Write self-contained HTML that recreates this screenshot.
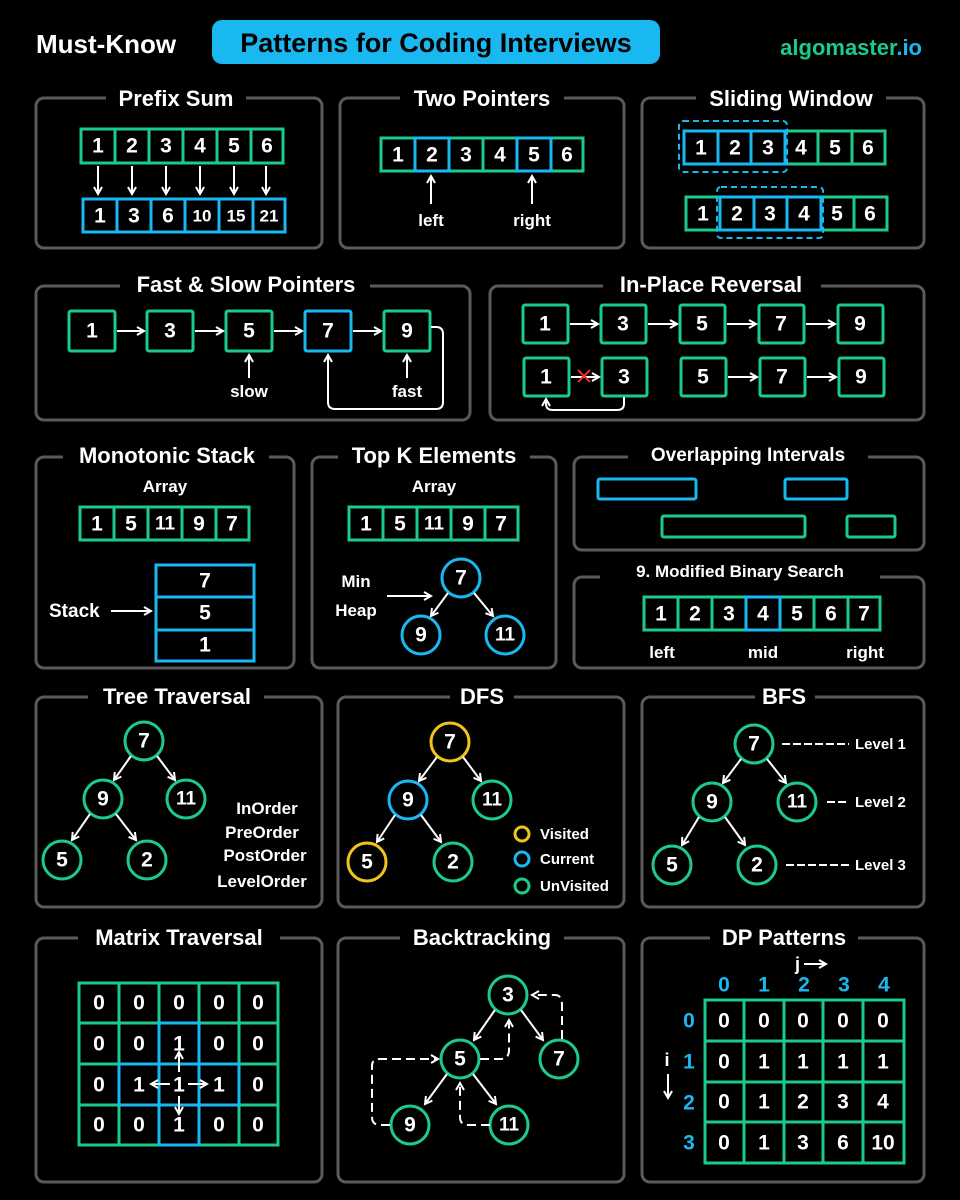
<!DOCTYPE html>
<html><head><meta charset="utf-8"><style>
html,body{margin:0;padding:0;background:#000}
svg{display:block}
text{font-family:"Liberation Sans",sans-serif;font-weight:bold;fill:#fff}
.p{fill:none;stroke:#5a5a5a;stroke-width:3}
.t{font-size:22px;text-anchor:middle}
.g{fill:#000;stroke:#1ccb89;stroke-width:3}
.b{fill:#000;stroke:#1ab8f0;stroke-width:3}
.y{fill:#000;stroke:#f0c419;stroke-width:3}
.n{font-size:21px;text-anchor:middle;dominant-baseline:central}
.s{font-size:15px;text-anchor:middle;dominant-baseline:central}
.a{stroke:#fff;stroke-width:2;fill:none;marker-end:url(#ah)}
.d{stroke:#fff;stroke-width:2;fill:none;stroke-dasharray:9 5;marker-end:url(#ah)}
.l{font-size:17px;text-anchor:middle}
</style></head><body>
<svg width="960" height="1200" viewBox="0 0 960 1200" xmlns="http://www.w3.org/2000/svg">
<defs><marker id="ah" markerWidth="10" markerHeight="10" refX="8" refY="5" orient="auto" markerUnits="userSpaceOnUse"><path d="M1,1 L8,5 L1,9" stroke="#fff" stroke-width="2" fill="none"/></marker></defs>
<rect width="960" height="1200" fill="#000"/>
<!-- header -->
<text x="36" y="53" font-size="26">Must-Know</text>
<rect x="212" y="20" width="448" height="44" rx="10" fill="#1ab8f0"/>
<text x="436" y="52" font-size="27" text-anchor="middle" style="fill:#000">Patterns for Coding Interviews</text>
<text x="922" y="55" font-size="22" text-anchor="end"><tspan style="fill:#1ccb89">algomaster</tspan><tspan style="fill:#1ab8f0">.io</tspan></text>

<!-- panels -->
<g class="p">
<rect x="36" y="98" width="286" height="150" rx="8"/>
<rect x="340" y="98" width="284" height="150" rx="8"/>
<rect x="642" y="98" width="282" height="150" rx="8"/>
<rect x="36" y="286" width="434" height="134" rx="8"/>
<rect x="490" y="286" width="434" height="134" rx="8"/>
<rect x="36" y="457" width="258" height="211" rx="8"/>
<rect x="312" y="457" width="244" height="211" rx="8"/>
<rect x="574" y="457" width="350" height="93" rx="8"/>
<rect x="574" y="577" width="350" height="91" rx="8"/>
<rect x="36" y="697" width="286" height="210" rx="8"/>
<rect x="338" y="697" width="286" height="210" rx="8"/>
<rect x="642" y="697" width="282" height="210" rx="8"/>
<rect x="36" y="938" width="286" height="244" rx="8"/>
<rect x="338" y="938" width="286" height="244" rx="8"/>
<rect x="642" y="938" width="282" height="244" rx="8"/>
</g>
<!-- title backgrounds -->
<g fill="#000">
<rect x="106" y="85" width="140" height="26"/><rect x="400" y="85" width="164" height="26"/><rect x="696" y="85" width="190" height="26"/>
<rect x="120" y="273" width="250" height="26"/><rect x="603" y="273" width="218" height="26"/>
<rect x="63" y="444" width="206" height="26"/><rect x="338" y="444" width="192" height="26"/><rect x="628" y="444" width="240" height="26"/>
<rect x="600" y="564" width="280" height="26"/>
<rect x="88" y="684" width="176" height="26"/><rect x="450" y="684" width="64" height="26"/><rect x="755" y="684" width="60" height="26"/>
<rect x="78" y="925" width="202" height="26"/><rect x="400" y="925" width="164" height="26"/><rect x="710" y="925" width="148" height="26"/>
</g>
<g class="t">
<text x="176" y="106">Prefix Sum</text><text x="482" y="106">Two Pointers</text><text x="791" y="106">Sliding Window</text>
<text x="246" y="292">Fast &amp; Slow Pointers</text><text x="711" y="292">In-Place Reversal</text>
<text x="167" y="463">Monotonic Stack</text><text x="434" y="463">Top K Elements</text><text x="748" y="461" font-size="19">Overlapping Intervals</text>
<text x="740" y="577" font-size="17">9. Modified Binary Search</text>
<text x="177" y="704">Tree Traversal</text><text x="482" y="704">DFS</text><text x="784" y="704">BFS</text>
<text x="179" y="945">Matrix Traversal</text><text x="482" y="945">Backtracking</text><text x="784" y="945">DP Patterns</text>
</g>

<!-- Prefix sum -->
<g class="g"><rect x="81" y="129" width="34" height="34"/><rect x="115" y="129" width="34" height="34"/><rect x="149" y="129" width="34" height="34"/><rect x="183" y="129" width="34" height="34"/><rect x="217" y="129" width="34" height="34"/><rect x="251" y="129" width="32" height="34"/></g>
<g class="b"><rect x="83" y="199" width="34" height="33"/><rect x="117" y="199" width="34" height="33"/><rect x="151" y="199" width="34" height="33"/><rect x="185" y="199" width="34" height="33"/><rect x="219" y="199" width="34" height="33"/><rect x="253" y="199" width="32" height="33"/></g>
<g class="n"><text x="98" y="146">1</text><text x="132" y="146">2</text><text x="166" y="146">3</text><text x="200" y="146">4</text><text x="234" y="146">5</text><text x="267" y="146">6</text>
<text x="100" y="216">1</text><text x="134" y="216">3</text><text x="168" y="216">6</text><text x="202" y="216" font-size="17">10</text><text x="236" y="216" font-size="17">15</text><text x="269" y="216" font-size="17">21</text></g>
<g class="a"><path d="M98 166V194"/><path d="M132 166V194"/><path d="M166 166V194"/><path d="M200 166V194"/><path d="M234 166V194"/><path d="M266 166V194"/></g>

<!-- Two pointers -->
<g class="g"><rect x="381" y="138" width="34" height="33"/><rect x="449" y="138" width="34" height="33"/><rect x="483" y="138" width="34" height="33"/><rect x="551" y="138" width="32" height="33"/></g>
<g class="b"><rect x="415" y="138" width="34" height="33"/><rect x="517" y="138" width="34" height="33"/></g>
<g class="n"><text x="398" y="155">1</text><text x="432" y="155">2</text><text x="466" y="155">3</text><text x="500" y="155">4</text><text x="534" y="155">5</text><text x="567" y="155">6</text></g>
<g class="a"><path d="M431 204V176"/><path d="M532 204V176"/></g>
<text class="l" x="431" y="226" font-size="19">left</text><text class="l" x="532" y="226" font-size="19">right</text>

<!-- Sliding window -->
<g class="g"><rect x="785" y="131" width="33" height="33"/><rect x="818" y="131" width="34" height="33"/><rect x="852" y="131" width="33" height="33"/>
<rect x="686" y="197" width="34" height="33"/><rect x="821" y="197" width="33" height="33"/><rect x="854" y="197" width="33" height="33"/></g>
<g class="b"><rect x="684" y="131" width="34" height="33"/><rect x="718" y="131" width="33" height="33"/><rect x="751" y="131" width="34" height="33"/>
<rect x="720" y="197" width="34" height="33"/><rect x="754" y="197" width="33" height="33"/><rect x="787" y="197" width="34" height="33"/></g>
<g fill="none" stroke="#1ab8f0" stroke-width="2" stroke-dasharray="6 4"><rect x="679" y="121" width="108" height="51" rx="4"/><rect x="717" y="187" width="106" height="51" rx="4"/></g>
<g class="n"><text x="701" y="148">1</text><text x="735" y="148">2</text><text x="768" y="148">3</text><text x="801" y="148">4</text><text x="835" y="148">5</text><text x="868" y="148">6</text>
<text x="703" y="214">1</text><text x="737" y="214">2</text><text x="770" y="214">3</text><text x="804" y="214">4</text><text x="837" y="214">5</text><text x="870" y="214">6</text></g>

<!-- Fast & slow -->
<g class="g"><rect x="69" y="311" width="46" height="40" rx="2"/><rect x="147" y="311" width="46" height="40" rx="2"/><rect x="226" y="311" width="46" height="40" rx="2"/><rect x="384" y="311" width="46" height="40" rx="2"/></g>
<rect class="b" x="305" y="311" width="46" height="40" rx="2"/>
<g class="n"><text x="92" y="331">1</text><text x="170" y="331">3</text><text x="249" y="331">5</text><text x="328" y="331">7</text><text x="407" y="331">9</text></g>
<g class="a"><path d="M117 331H144"/><path d="M195 331H223"/><path d="M274 331H302"/><path d="M353 331H381"/><path d="M249 378V355"/><path d="M407 378V355"/>
<path d="M431 327H436Q443 327 443 334V402Q443 409 436 409H335Q328 409 328 402V355"/></g>
<text class="l" x="249" y="397" font-size="19">slow</text><text class="l" x="407" y="397" font-size="19">fast</text>

<!-- In-place reversal -->
<g class="g"><rect x="523" y="305" width="45" height="38" rx="2"/><rect x="601" y="305" width="45" height="38" rx="2"/><rect x="680" y="305" width="45" height="38" rx="2"/><rect x="759" y="305" width="45" height="38" rx="2"/><rect x="838" y="305" width="45" height="38" rx="2"/>
<rect x="524" y="358" width="45" height="38" rx="2"/><rect x="602" y="358" width="45" height="38" rx="2"/><rect x="681" y="358" width="45" height="38" rx="2"/><rect x="760" y="358" width="45" height="38" rx="2"/><rect x="839" y="358" width="45" height="38" rx="2"/></g>
<g class="n"><text x="545" y="324">1</text><text x="623" y="324">3</text><text x="702" y="324">5</text><text x="781" y="324">7</text><text x="860" y="324">9</text>
<text x="546" y="377">1</text><text x="624" y="377">3</text><text x="703" y="377">5</text><text x="782" y="377">7</text><text x="861" y="377">9</text></g>
<g class="a"><path d="M570 324H598"/><path d="M648 324H677"/><path d="M727 324H756"/><path d="M806 324H835"/><path d="M571 377H599"/><path d="M728 377H757"/><path d="M807 377H836"/>
<path d="M624 397V404Q624 410 617 410H553Q546 410 546 404V399"/></g>
<path d="M578 370L590 382M590 370L578 382" stroke="#e53030" stroke-width="2"/>

<!-- Monotonic -->
<text class="l" x="165" y="492" font-size="19">Array</text>
<g class="g"><rect x="80" y="507" width="34" height="33"/><rect x="114" y="507" width="34" height="33"/><rect x="148" y="507" width="34" height="33"/><rect x="182" y="507" width="34" height="33"/><rect x="216" y="507" width="33" height="33"/></g>
<g class="n"><text x="97" y="524">1</text><text x="131" y="524">5</text><text x="165" y="524" font-size="19">11</text><text x="199" y="524">9</text><text x="232" y="524">7</text></g>
<g class="b"><rect x="156" y="565" width="98" height="32"/><rect x="156" y="597" width="98" height="33"/><rect x="156" y="630" width="98" height="31"/></g>
<g class="n"><text x="205" y="581">7</text><text x="205" y="613">5</text><text x="205" y="645">1</text></g>
<text x="49" y="617" font-size="19">Stack</text>
<path class="a" d="M111 611H151"/>

<!-- Top K -->
<text class="l" x="434" y="492" font-size="19">Array</text>
<g class="g"><rect x="349" y="507" width="34" height="33"/><rect x="383" y="507" width="34" height="33"/><rect x="417" y="507" width="34" height="33"/><rect x="451" y="507" width="34" height="33"/><rect x="485" y="507" width="33" height="33"/></g>
<g class="n"><text x="366" y="524">1</text><text x="400" y="524">5</text><text x="434" y="524" font-size="19">11</text><text x="468" y="524">9</text><text x="501" y="524">7</text></g>
<g class="b"><circle cx="461" cy="578" r="19"/><circle cx="421" cy="635" r="19"/><circle cx="505" cy="635" r="19"/></g>
<g class="n"><text x="461" y="578">7</text><text x="421" y="635">9</text><text x="505" y="635" font-size="19">11</text></g>
<g class="a"><path d="M448 593L431 616"/><path d="M474 593L493 616"/><path d="M387 596H431"/></g>
<text class="l" x="356" y="587" font-size="19">Min</text><text class="l" x="356" y="616" font-size="19">Heap</text>

<!-- Overlapping -->
<rect class="b" x="598" y="479" width="98" height="20" rx="2"/><rect class="b" x="785" y="479" width="62" height="20" rx="2"/>
<rect class="g" x="662" y="516" width="143" height="21" rx="2"/><rect class="g" x="847" y="516" width="48" height="21" rx="2"/>

<!-- Binary search -->
<g class="g"><rect x="644" y="597" width="34" height="33"/><rect x="678" y="597" width="34" height="33"/><rect x="712" y="597" width="34" height="33"/><rect x="780" y="597" width="34" height="33"/><rect x="814" y="597" width="34" height="33"/><rect x="848" y="597" width="32" height="33"/></g>
<rect class="b" x="746" y="597" width="34" height="33"/>
<g class="n"><text x="661" y="614">1</text><text x="695" y="614">2</text><text x="729" y="614">3</text><text x="763" y="614">4</text><text x="797" y="614">5</text><text x="831" y="614">6</text><text x="864" y="614">7</text></g>
<text class="l" x="662" y="658" font-size="17">left</text><text class="l" x="763" y="658" font-size="17">mid</text><text class="l" x="865" y="658" font-size="17">right</text>

<!-- Tree Traversal -->
<g class="g"><circle cx="144" cy="741" r="19"/><circle cx="103" cy="799" r="19"/><circle cx="186" cy="799" r="19"/><circle cx="62" cy="860" r="19"/><circle cx="147" cy="860" r="19"/></g>
<g class="n"><text x="144" y="741">7</text><text x="103" y="799">9</text><text x="186" y="799" font-size="19">11</text><text x="62" y="860">5</text><text x="147" y="860">2</text></g>
<g class="a"><path d="M131 756L114 780"/><path d="M157 756L175 780"/><path d="M90 814L72 840"/><path d="M116 814L136 840"/></g>
<g class="l" font-size="17"><text x="267" y="814">InOrder</text><text x="262" y="838">PreOrder</text><text x="265" y="861">PostOrder</text><text x="262" y="887">LevelOrder</text></g>

<!-- DFS -->
<circle class="y" cx="450" cy="742" r="19"/><circle class="b" cx="408" cy="800" r="19"/><circle class="g" cx="492" cy="800" r="19"/><circle class="y" cx="367" cy="862" r="19"/><circle class="g" cx="453" cy="862" r="19"/>
<g class="n"><text x="450" y="742">7</text><text x="408" y="800">9</text><text x="492" y="800" font-size="19">11</text><text x="367" y="862">5</text><text x="453" y="862">2</text></g>
<g class="a"><path d="M437 757L419 781"/><path d="M463 757L481 781"/><path d="M395 815L377 842"/><path d="M421 815L441 842"/></g>
<circle class="y" cx="522" cy="834" r="7"/><circle class="b" cx="522" cy="859" r="7"/><circle class="g" cx="522" cy="886" r="7"/>
<g font-size="15"><text x="540" y="839">Visited</text><text x="540" y="864">Current</text><text x="540" y="891">UnVisited</text></g>

<!-- BFS -->
<g class="g"><circle cx="754" cy="744" r="19"/><circle cx="712" cy="802" r="19"/><circle cx="797" cy="802" r="19"/><circle cx="672" cy="865" r="19"/><circle cx="757" cy="865" r="19"/></g>
<g class="n"><text x="754" y="744">7</text><text x="712" y="802">9</text><text x="797" y="802" font-size="19">11</text><text x="672" y="865">5</text><text x="757" y="865">2</text></g>
<g class="a"><path d="M741 759L723 783"/><path d="M767 759L786 783"/><path d="M699 817L682 845"/><path d="M725 817L745 845"/></g>
<g stroke="#fff" stroke-width="2" stroke-dasharray="8 3"><path d="M782 744H849"/><path d="M827 802H849"/><path d="M786 865H849"/></g>
<g font-size="15"><text x="855" y="749">Level 1</text><text x="855" y="807">Level 2</text><text x="855" y="870">Level 3</text></g>

<!-- Matrix -->
<g class="g">
<rect x="79" y="983" width="40" height="40"/><rect x="119" y="983" width="40" height="40"/><rect x="159" y="983" width="40" height="40"/><rect x="199" y="983" width="40" height="40"/><rect x="239" y="983" width="39" height="40"/>
<rect x="79" y="1023" width="40" height="41"/><rect x="119" y="1023" width="40" height="41"/><rect x="199" y="1023" width="40" height="41"/><rect x="239" y="1023" width="39" height="41"/>
<rect x="79" y="1064" width="40" height="41"/><rect x="239" y="1064" width="39" height="41"/>
<rect x="79" y="1105" width="40" height="40"/><rect x="119" y="1105" width="40" height="40"/><rect x="199" y="1105" width="40" height="40"/><rect x="239" y="1105" width="39" height="40"/></g>
<g class="b"><rect x="159" y="1023" width="40" height="41"/><rect x="119" y="1064" width="40" height="41"/><rect x="159" y="1064" width="40" height="41"/><rect x="199" y="1064" width="40" height="41"/><rect x="159" y="1105" width="40" height="40"/></g>
<g class="n">
<text x="99" y="1003">0</text><text x="139" y="1003">0</text><text x="179" y="1003">0</text><text x="219" y="1003">0</text><text x="258" y="1003">0</text>
<text x="99" y="1044">0</text><text x="139" y="1044">0</text><text x="179" y="1044">1</text><text x="219" y="1044">0</text><text x="258" y="1044">0</text>
<text x="99" y="1085">0</text><text x="139" y="1085">1</text><text x="179" y="1085">1</text><text x="219" y="1085">1</text><text x="258" y="1085">0</text>
<text x="99" y="1125">0</text><text x="139" y="1125">0</text><text x="179" y="1125">1</text><text x="219" y="1125">0</text><text x="258" y="1125">0</text></g>
<g class="a"><path d="M179 1072V1052"/><path d="M179 1096V1114"/><path d="M170 1084H151"/><path d="M188 1084H207"/></g>

<!-- Backtracking -->
<g class="g"><circle cx="508" cy="995" r="19"/><circle cx="460" cy="1059" r="19"/><circle cx="559" cy="1059" r="19"/><circle cx="410" cy="1125" r="19"/><circle cx="509" cy="1125" r="19"/></g>
<g class="n"><text x="508" y="995">3</text><text x="460" y="1059">5</text><text x="559" y="1059">7</text><text x="410" y="1125">9</text><text x="509" y="1125" font-size="19">11</text></g>
<g class="a"><path d="M495 1010L474 1040"/><path d="M521 1010L543 1040"/><path d="M447 1074L425 1104"/><path d="M473 1074L496 1104"/></g>
<g class="d"><path d="M480 1059H500Q509 1059 509 1050V1020"/><path d="M562 1039V1005Q562 995 555 995H532"/><path d="M390 1125H380Q372 1125 372 1117V1066Q372 1059 380 1059H438"/><path d="M490 1125H468Q460 1125 460 1117V1083"/></g>

<!-- DP -->
<text x="795" y="970" font-size="18">j</text><path class="a" d="M804 964H826"/>
<g class="n"><text x="724" y="985" style="fill:#1ab8f0">0</text><text x="764" y="985" style="fill:#1ab8f0">1</text><text x="804" y="985" style="fill:#1ab8f0">2</text><text x="844" y="985" style="fill:#1ab8f0">3</text><text x="884" y="985" style="fill:#1ab8f0">4</text>
<text x="689" y="1021" style="fill:#1ab8f0">0</text><text x="689" y="1062" style="fill:#1ab8f0">1</text><text x="689" y="1103" style="fill:#1ab8f0">2</text><text x="689" y="1143" style="fill:#1ab8f0">3</text></g>
<text x="667" y="1066" font-size="18" text-anchor="middle">i</text><path class="a" d="M668 1074V1098"/>
<g class="g">
<rect x="705" y="1000" width="39" height="41"/><rect x="744" y="1000" width="40" height="41"/><rect x="784" y="1000" width="39" height="41"/><rect x="823" y="1000" width="40" height="41"/><rect x="863" y="1000" width="41" height="41"/>
<rect x="705" y="1041" width="39" height="41"/><rect x="744" y="1041" width="40" height="41"/><rect x="784" y="1041" width="39" height="41"/><rect x="823" y="1041" width="40" height="41"/><rect x="863" y="1041" width="41" height="41"/>
<rect x="705" y="1082" width="39" height="40"/><rect x="744" y="1082" width="40" height="40"/><rect x="784" y="1082" width="39" height="40"/><rect x="823" y="1082" width="40" height="40"/><rect x="863" y="1082" width="41" height="40"/>
<rect x="705" y="1122" width="39" height="41"/><rect x="744" y="1122" width="40" height="41"/><rect x="784" y="1122" width="39" height="41"/><rect x="823" y="1122" width="40" height="41"/><rect x="863" y="1122" width="41" height="41"/></g>
<g class="n">
<text x="724" y="1021">0</text><text x="764" y="1021">0</text><text x="803" y="1021">0</text><text x="843" y="1021">0</text><text x="883" y="1021">0</text>
<text x="724" y="1062">0</text><text x="764" y="1062">1</text><text x="803" y="1062">1</text><text x="843" y="1062">1</text><text x="883" y="1062">1</text>
<text x="724" y="1102">0</text><text x="764" y="1102">1</text><text x="803" y="1102">2</text><text x="843" y="1102">3</text><text x="883" y="1102">4</text>
<text x="724" y="1143">0</text><text x="764" y="1143">1</text><text x="803" y="1143">3</text><text x="843" y="1143">6</text><text x="883" y="1143">10</text></g>
</svg>
</body></html>
